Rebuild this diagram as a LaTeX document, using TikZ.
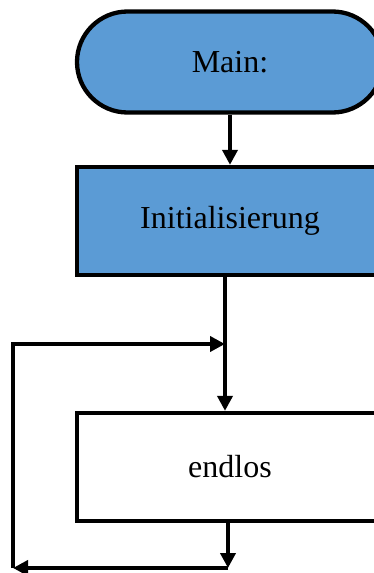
\documentclass[tikz,border=0pt]{standalone}
\usepackage{fontspec}
\setmainfont{Liberation Serif}
\usetikzlibrary{arrows.meta,shapes.misc,positioning}

\begin{document}
\begin{tikzpicture}[
        %units are pixels of the reference, y grows downwards
        x=1pt, y=-1pt,
        arrow/.style={line width=4pt, -{Triangle[length=15pt,width=15pt]}},
        block/.style={draw, line width=4.3pt, minimum width=306pt, minimum height=108pt,
            inner sep=0pt, font=\fontsize{32}{38}\selectfont},
        every node/.style={color=black}
    ]
    % Frame
    \useasboundingbox (0,0) rectangle (374,573);
    \clip (0,0) rectangle (374,573);

    % Blocks
    \node[block, rounded rectangle, fill={rgb,255:red,91;green,155;blue,213},
        minimum height=101pt] (main) at (230,62) {Main:};
    \node[block, fill={rgb,255:red,91;green,155;blue,213}] (init) at (230,221) {Initialisierung};
    \node[block, fill=white] (endlos) at (230,467) {endlos};

    % Loop points
    \coordinate (join) at (225,344);
    \coordinate (bottom) at (228,568);
    \coordinate (corner) at (13,568);

    % Connectors
    \draw[arrow] (main.south) -- (init.north);
    \draw[arrow] (init.south -| join) -- (endlos.north -| join);
    \draw[arrow] (endlos.south -| bottom) -- (bottom);
    \draw[arrow] (bottom) -- (corner);
    \draw[arrow] (corner) |- (join);
\end{tikzpicture}
\end{document}
